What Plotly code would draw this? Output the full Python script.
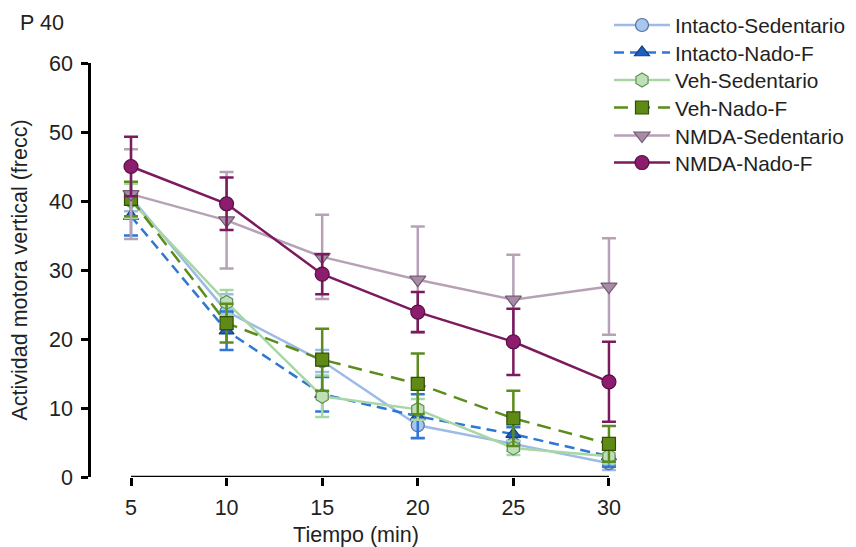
import plotly.graph_objects as go

tiempo = [5, 10, 15, 20, 25, 30]

intacto_sed = [40.5, 24.0, 16.8, 7.5, 4.8, 2.0]
intacto_sed_err = [2.0, 2.5, 1.6, 1.8, 1.0, 1.0]

intacto_nado = [37.8, 21.2, 12.0, 8.8, 6.2, 3.0]
intacto_nado_err = [2.8, 2.8, 2.5, 3.2, 1.0, 1.5]

veh_sed = [40.0, 25.3, 11.7, 9.8, 4.2, 3.0]
veh_sed_err = [2.5, 1.8, 3.0, 1.5, 1.0, 1.0]

veh_nado = [40.3, 22.3, 17.0, 13.5, 8.5, 4.8]
veh_nado_err = [2.5, 2.8, 4.5, 4.4, 4.0, 2.6]

nmda_sed = [41.0, 37.2, 31.9, 28.6, 25.7, 27.6]
nmda_sed_err = [6.5, 7.0, 6.1, 7.7, 6.5, 7.0]

nmda_nado = [45.0, 39.6, 29.4, 23.9, 19.6, 13.8]
nmda_nado_err = [4.3, 3.8, 2.9, 2.9, 4.8, 5.8]

FONT = "Liberation Sans, Arial, sans-serif"
FS = 21.5
LFS = 20.8
W, H = 848, 539  # page has an 8px body margin

series = [
    ("Intacto-Sedentario", intacto_sed, intacto_sed_err, "#9dbbe6", "#a9c6ec", "#4f6fa3", "circle", "solid", 13),
    ("Intacto-Nado-F", intacto_nado, intacto_nado_err, "#2c78d4", "#1f5fc0", "#163f80", "triangle-up", "10px,6px", 13),
    ("Veh-Sedentario", veh_sed, veh_sed_err, "#a8d6a4", "#bfe0b5", "#5f8f5a", "hexagon", "solid", 14),
    ("Veh-Nado-F", veh_nado, veh_nado_err, "#5b8c1c", "#5e8a15", "#334d0c", "square", "14px,8px", 13),
    ("NMDA-Sedentario", nmda_sed, nmda_sed_err, "#b7a1b6", "#a88ba7", "#735a72", "triangle-down", "solid", 14),
    ("NMDA-Nado-F", nmda_nado, nmda_nado_err, "#7b1a5e", "#8d1c6f", "#55103f", "circle", "solid", 14),
]
legend_centers = [17.5, 45, 72.5, 100, 128, 155]

fig = go.Figure()
legends = {}
for i, (name, ys, err, lc, mc, oc, sym, dash, ms) in enumerate(series):
    lname = "legend" if i == 0 else f"legend{i+1}"
    fig.add_trace(go.Scatter(
        x=tiempo, y=ys, name=name, mode="lines+markers",
        line=dict(color=lc, width=2.5, dash=dash),
        marker=dict(symbol=sym, size=ms, color=mc, line=dict(color=oc, width=1.2)),
        error_y=dict(type="data", array=err, visible=True, color=lc, thickness=2.5, width=7),
        cliponaxis=False, legend=lname,
    ))
    legends[lname] = dict(
        xref="container", yref="container", x=601 / W, y=1 - legend_centers[i] / H,
        xanchor="left", yanchor="middle", font=dict(size=LFS, color="#222", family=FONT),
        itemwidth=56, bgcolor="rgba(0,0,0,0)", borderwidth=0,
    )

fig.add_shape(type="line", xref="x", yref="y", x0=5, x1=30, y0=0, y1=0,
              line=dict(color="black", width=2.5))

fig.update_layout(
    width=W, height=H,
    margin=dict(l=83, r=235, t=55, b=70, autoexpand=False),
    paper_bgcolor="white", plot_bgcolor="white",
    font=dict(family=FONT, size=FS, color="#222"),
    title=dict(text="P 40", xref="container", yref="container", x=12 / W, y=1 - 14 / H,
               xanchor="left", yanchor="middle", font=dict(size=FS, color="#222")),
    showlegend=True,
    **legends,
)
fig.update_xaxes(
    range=[2.908, 30.63], tickvals=tiempo, showline=False, showgrid=False, zeroline=False,
    ticks="outside", ticklen=8, tickwidth=2.5, tickcolor="black", automargin=False,
    ticklabelstandoff=3,
    title=dict(text="Tiempo (min)", standoff=8, font=dict(size=FS)),
    tickfont=dict(size=FS),
)
fig.update_yaxes(
    range=[0, 60], tickvals=[0, 10, 20, 30, 40, 50, 60], showline=True, linecolor="black", linewidth=2.5,
    showgrid=False, zeroline=False, ticks="outside", ticklen=7, tickwidth=2.5, tickcolor="black",
    automargin=False, ticklabelstandoff=4,
    title=dict(text="Actividad motora vertical (frecc)", standoff=16, font=dict(size=FS)),
    tickfont=dict(size=FS),
)

fig.write_html("out.html")
